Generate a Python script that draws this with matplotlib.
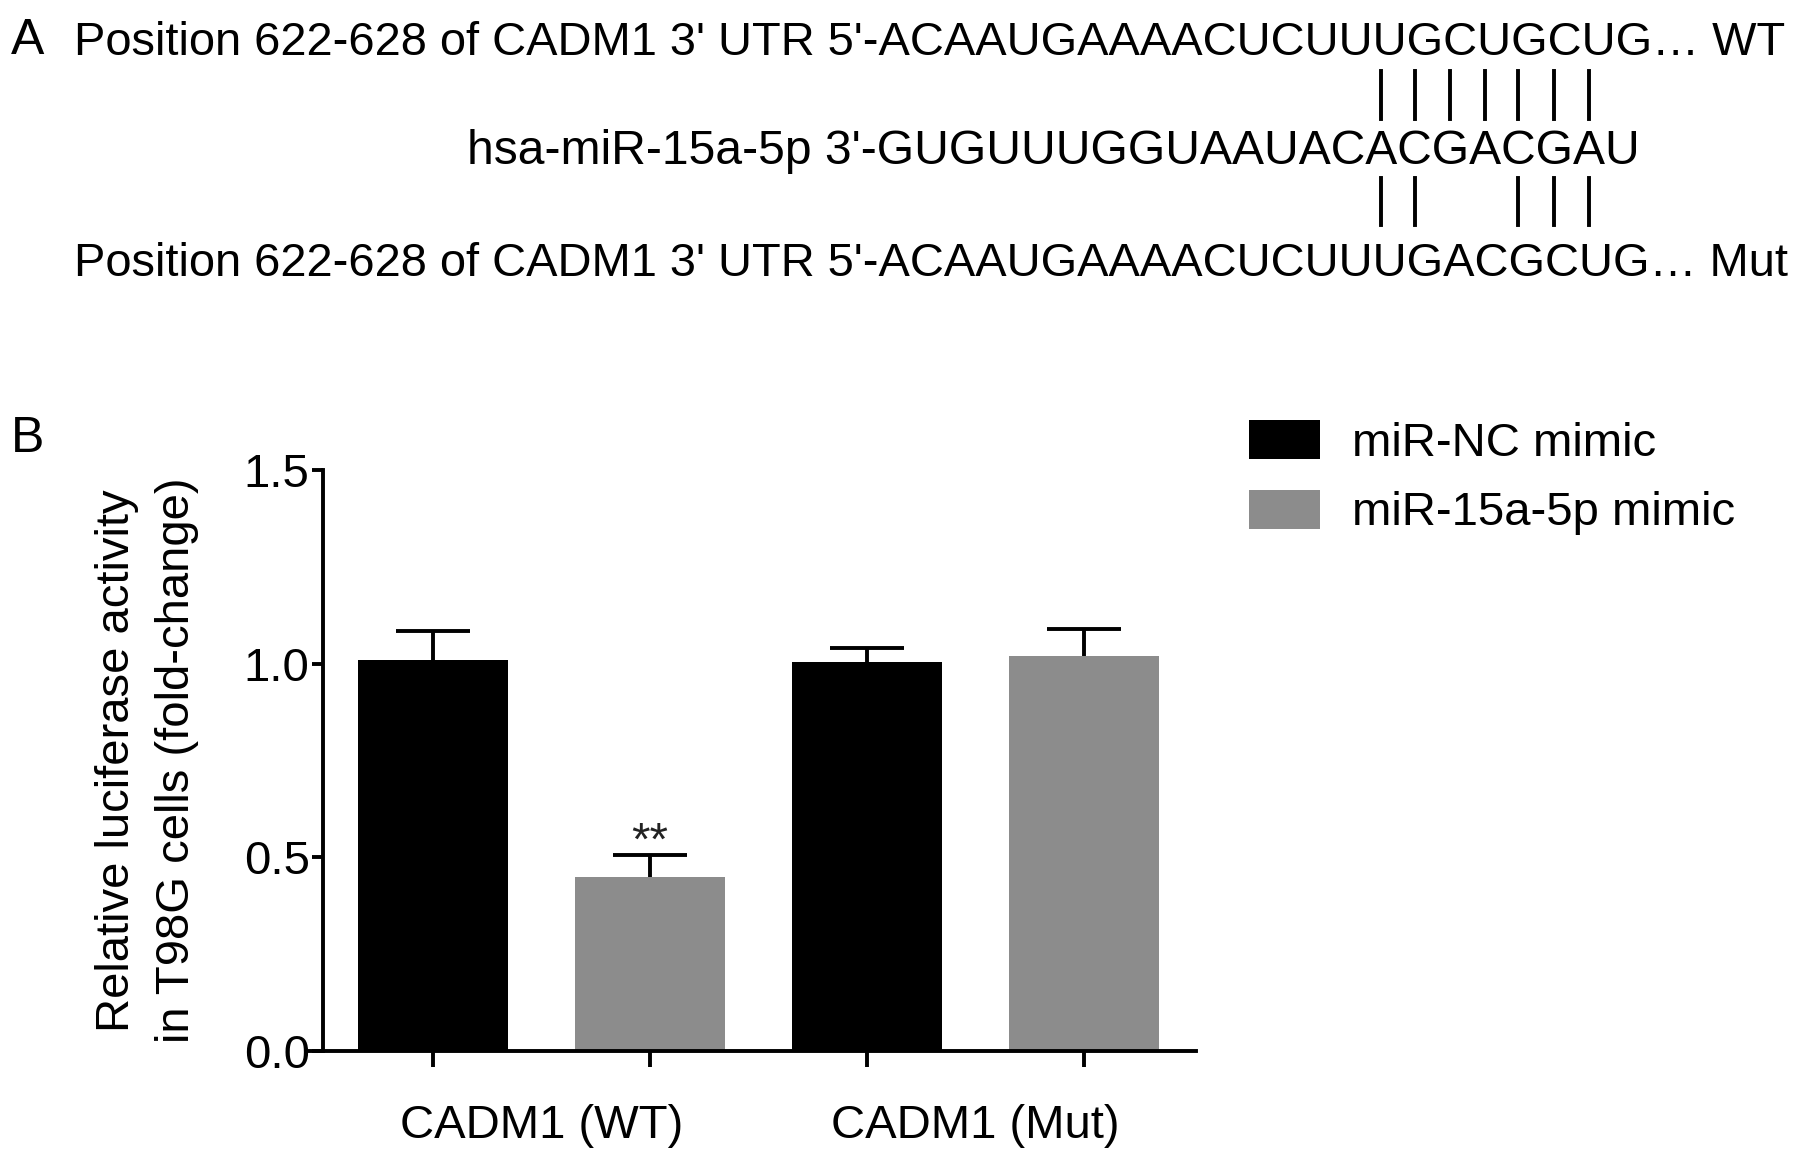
import matplotlib
matplotlib.use("Agg")
import matplotlib.pyplot as plt
import numpy as np
from matplotlib.lines import Line2D
from matplotlib.patches import Patch
from matplotlib.font_manager import FontProperties

plt.rcParams["font.family"] = ["Liberation Sans", "DejaVu Sans"]

W, H, DPI = 1795, 1163, 100
FS = 34
FS_SITE = 33.8   # target-site lines
FS_MIR = 34.6    # miRNA line
GREY = "#8c8c8c"

# --- panel A: target site / miRNA pairing ---
site_label = "Position 622-628 of CADM1 3' UTR 5'-"
wt_seq = "ACAAUGAAAACUCUUUGCUGCUG"
mut_seq = "ACAAUGAAAACUCUUUGACGCUG"
mir_label = "hsa-miR-15a-5p 3'-"
mir_seq = "GUGUUUGGUAAUACACGACGAU"
# miRNA positions (0-based in mir_seq) that pair with each target
wt_paired = [14, 15, 16, 17, 18, 19, 20]
mut_paired = [14, 15, 18, 19, 20]

# --- panel B: luciferase reporter ---
groups = ["CADM1 (WT)", "CADM1 (Mut)"]
series = ["miR-NC mimic", "miR-15a-5p mimic"]
nc_mean = [1.01, 1.005]
nc_sd = [0.075, 0.036]
mir_mean = [0.45, 1.02]
mir_sd = [0.057, 0.07]
colors = ["black", GREY]


def fx(px):
    return px / W


def fy(py):
    return 1 - py / H


fig = plt.figure(figsize=(W / DPI, H / DPI), dpi=DPI)

# panel letters
fig.text(fx(11), fy(54), "A", fontsize=FS + 2, va="baseline")
fig.text(fx(11), fy(452), "B", fontsize=FS + 2, va="baseline")

fig.text(fx(74), fy(55), site_label + wt_seq + "\u2026 WT", fontsize=FS_SITE, va="baseline")
t_mir = fig.text(fx(467), fy(164), mir_label + mir_seq, fontsize=FS_MIR, va="baseline")
fig.text(fx(74), fy(276), site_label + mut_seq + "\u2026 Mut", fontsize=FS_SITE, va="baseline")

# pairing ticks, placed on the centres of the miRNA letters
fig.canvas.draw()
rend = fig.canvas.get_renderer()
prop = FontProperties(family=["Liberation Sans", "DejaVu Sans"], size=FS_MIR)


def text_w(s):
    return rend.get_text_width_height_descent(s, prop, ismath=False)[0]


x0 = t_mir.get_window_extent(rend).x0


def char_centre(i):
    return x0 + text_w(mir_label + mir_seq[:i]) + text_w(mir_seq[i]) / 2


for idx_list, (top, bot) in [(wt_paired, (71, 119)), (mut_paired, (178, 225))]:
    for i in idx_list:
        xc = char_centre(i) / fig.bbox.width
        fig.add_artist(Line2D([xc, xc], [fy(top), fy(bot)], color="black", lw=2.8))

# bar chart
ax = fig.add_axes([fx(309), fy(1051), fx(1196) - fx(309), fy(470) - fy(1051)])
x = np.arange(len(groups) * len(series))
for s, (mean, sd) in enumerate([(nc_mean, nc_sd), (mir_mean, mir_sd)]):
    pos = x[s::2]
    ax.errorbar(pos, mean, yerr=sd, fmt="none", ecolor="black",
                elinewidth=2.8, capsize=26.5, capthick=2.8, zorder=1)
    ax.bar(pos, mean, width=0.69, color=colors[s], label=series[s], zorder=2)

ax.text(x[1], mir_mean[0] + mir_sd[0], "**", ha="center", va="baseline",
        fontsize=FS, color="#222222")

ax.set_xlim(-0.571, 3.516)
ax.set_ylim(0, 1.5)
ax.set_yticks([0, 0.5, 1.0, 1.5])
ax.set_yticklabels(["0.0", "0.5", "1.0", "1.5"])
ax.set_xticks(x)
ax.set_xticklabels([])
ax.set_xticks([0.5, 2.5], labels=groups, minor=True)

for side in ("top", "right"):
    ax.spines[side].set_visible(False)
for side in ("left", "bottom"):
    ax.spines[side].set_linewidth(2.8)
ax.spines["left"].set_position(("data", -0.507))
ax.tick_params(axis="y", length=8, width=2.8, pad=1.5, labelsize=FS)
ax.tick_params(axis="x", which="major", length=11.5, width=2.8)
ax.tick_params(axis="x", which="minor", length=0, pad=38, labelsize=FS)
ax.set_ylabel("Relative luciferase activity\nin T98G cells (fold-change)",
              fontsize=FS, labelpad=32, linespacing=1.47)

handles = [Patch(facecolor=c, edgecolor="none") for c in colors]
fig.legend(handles, series, loc="upper left", bbox_to_anchor=(fx(1249), fy(420)),
           frameon=False, fontsize=FS, handlelength=1.5, handleheight=0.9,
           handletextpad=0.68, labelspacing=0.5, borderpad=0, borderaxespad=0)

fig.savefig("out.png", dpi=DPI)
